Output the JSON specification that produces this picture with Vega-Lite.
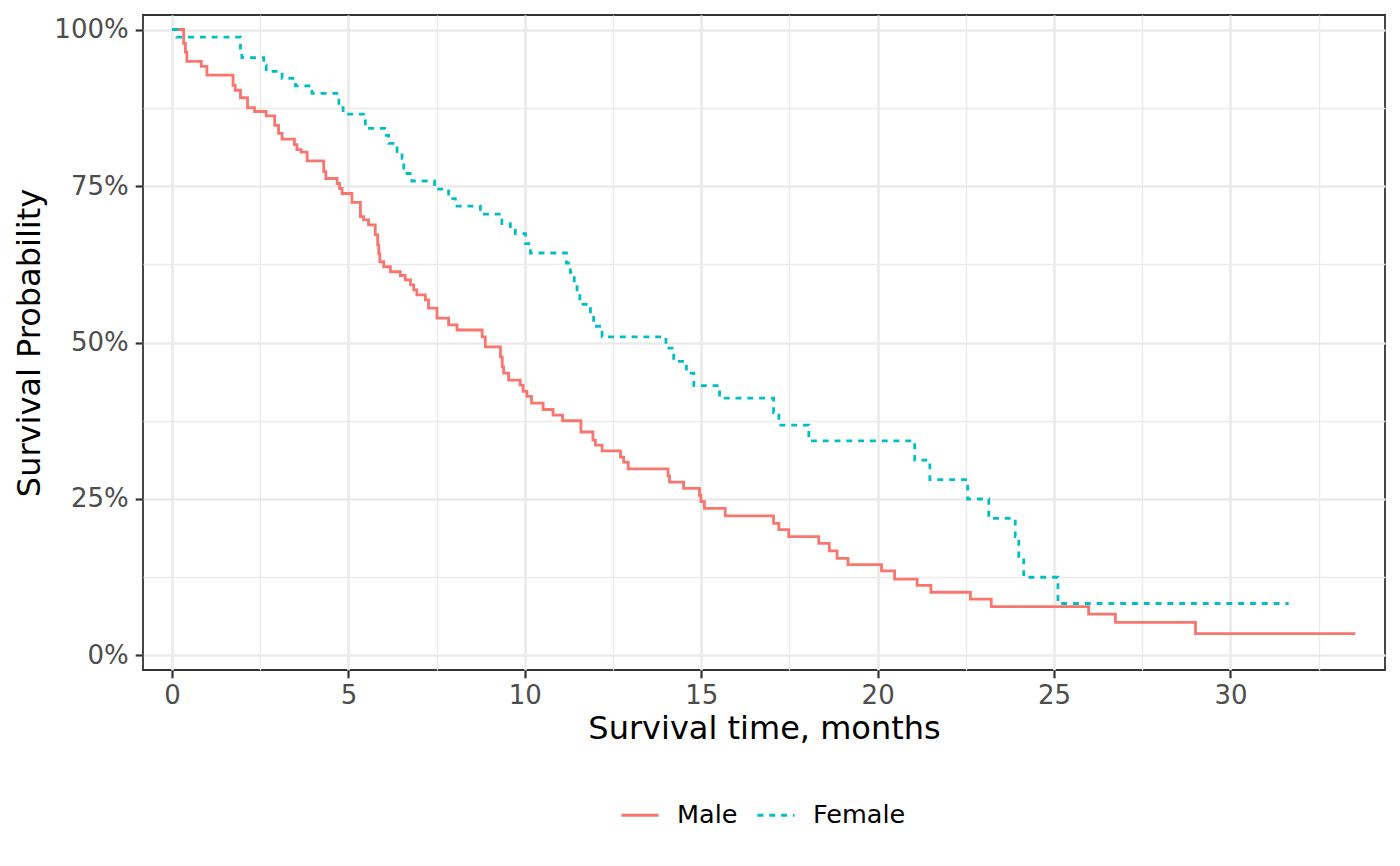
{
  "$schema": "https://vega.github.io/schema/vega-lite/v6.json",
  "width": 1242,
  "height": 655,
  "autosize": {"type": "none"},
  "padding": {"left": 143, "top": 15, "right": 15, "bottom": 196},
  "background": "white",
  "config": {
    "font": "DejaVu Sans",
    "view": {"stroke": "#333333", "strokeWidth": 1.8},
    "axis": {
      "domain": false,
      "grid": true,
      "gridColor": "#EBEBEB",
      "tickColor": "#333333",
      "tickWidth": 2.2,
      "tickSize": 7.8,
      "labelFont": "DejaVu Sans",
      "labelFontSize": 26,
      "labelColor": "#4D4D4D",
      "titleFont": "DejaVu Sans",
      "titleFontSize": 32,
      "titleFontWeight": "normal",
      "titleColor": "#000000"
    },
    "legend": {
      "orient": "none",
      "legendX": 477,
      "legendY": 780,
      "direction": "horizontal",
      "title": null,
      "symbolType": "stroke",
      "symbolSize": 1369,
      "symbolStrokeWidth": 2.8,
      "labelFont": "DejaVu Sans",
      "labelFontSize": 25.5,
      "labelColor": "#000000",
      "labelOffset": 17,
      "columnPadding": 13,
      "padding": 0
    }
  },
  "data": {
    "values": [
      {"sex": "Male", "time": 0, "surv": 1.0},
      {"sex": "Male", "time": 0.33, "surv": 0.978},
      {"sex": "Male", "time": 0.38, "surv": 0.964},
      {"sex": "Male", "time": 0.42, "surv": 0.949},
      {"sex": "Male", "time": 0.83, "surv": 0.941},
      {"sex": "Male", "time": 0.99, "surv": 0.927},
      {"sex": "Male", "time": 1.73, "surv": 0.911},
      {"sex": "Male", "time": 1.79, "surv": 0.903},
      {"sex": "Male", "time": 1.94, "surv": 0.891},
      {"sex": "Male", "time": 2.14, "surv": 0.875},
      {"sex": "Male", "time": 2.34, "surv": 0.869},
      {"sex": "Male", "time": 2.67, "surv": 0.862},
      {"sex": "Male", "time": 2.91, "surv": 0.847},
      {"sex": "Male", "time": 3.02, "surv": 0.834},
      {"sex": "Male", "time": 3.12, "surv": 0.825},
      {"sex": "Male", "time": 3.47, "surv": 0.816},
      {"sex": "Male", "time": 3.54, "surv": 0.808},
      {"sex": "Male", "time": 3.66, "surv": 0.804},
      {"sex": "Male", "time": 3.83, "surv": 0.790},
      {"sex": "Male", "time": 4.30, "surv": 0.773},
      {"sex": "Male", "time": 4.36, "surv": 0.762},
      {"sex": "Male", "time": 4.68, "surv": 0.754},
      {"sex": "Male", "time": 4.75, "surv": 0.746},
      {"sex": "Male", "time": 4.82, "surv": 0.738},
      {"sex": "Male", "time": 5.10, "surv": 0.724},
      {"sex": "Male", "time": 5.34, "surv": 0.701},
      {"sex": "Male", "time": 5.43, "surv": 0.696},
      {"sex": "Male", "time": 5.57, "surv": 0.688},
      {"sex": "Male", "time": 5.76, "surv": 0.672},
      {"sex": "Male", "time": 5.83, "surv": 0.656},
      {"sex": "Male", "time": 5.86, "surv": 0.642},
      {"sex": "Male", "time": 5.89, "surv": 0.629},
      {"sex": "Male", "time": 6.00, "surv": 0.621},
      {"sex": "Male", "time": 6.19, "surv": 0.613},
      {"sex": "Male", "time": 6.47, "surv": 0.607},
      {"sex": "Male", "time": 6.61, "surv": 0.600},
      {"sex": "Male", "time": 6.76, "surv": 0.592},
      {"sex": "Male", "time": 6.85, "surv": 0.584},
      {"sex": "Male", "time": 6.94, "surv": 0.576},
      {"sex": "Male", "time": 7.18, "surv": 0.568},
      {"sex": "Male", "time": 7.27, "surv": 0.555},
      {"sex": "Male", "time": 7.51, "surv": 0.539},
      {"sex": "Male", "time": 7.84, "surv": 0.528},
      {"sex": "Male", "time": 8.08, "surv": 0.520},
      {"sex": "Male", "time": 8.79, "surv": 0.509},
      {"sex": "Male", "time": 8.88, "surv": 0.493},
      {"sex": "Male", "time": 9.31, "surv": 0.477},
      {"sex": "Male", "time": 9.36, "surv": 0.461},
      {"sex": "Male", "time": 9.40, "surv": 0.451},
      {"sex": "Male", "time": 9.54, "surv": 0.440},
      {"sex": "Male", "time": 9.87, "surv": 0.432},
      {"sex": "Male", "time": 9.95, "surv": 0.422},
      {"sex": "Male", "time": 10.06, "surv": 0.414},
      {"sex": "Male", "time": 10.19, "surv": 0.403},
      {"sex": "Male", "time": 10.52, "surv": 0.393},
      {"sex": "Male", "time": 10.80, "surv": 0.384},
      {"sex": "Male", "time": 11.07, "surv": 0.375},
      {"sex": "Male", "time": 11.59, "surv": 0.357},
      {"sex": "Male", "time": 11.93, "surv": 0.344},
      {"sex": "Male", "time": 12.00, "surv": 0.336},
      {"sex": "Male", "time": 12.19, "surv": 0.327},
      {"sex": "Male", "time": 12.71, "surv": 0.317},
      {"sex": "Male", "time": 12.80, "surv": 0.309},
      {"sex": "Male", "time": 12.93, "surv": 0.298},
      {"sex": "Male", "time": 14.06, "surv": 0.287},
      {"sex": "Male", "time": 14.10, "surv": 0.277},
      {"sex": "Male", "time": 14.50, "surv": 0.267},
      {"sex": "Male", "time": 14.95, "surv": 0.256},
      {"sex": "Male", "time": 14.99, "surv": 0.246},
      {"sex": "Male", "time": 15.09, "surv": 0.235},
      {"sex": "Male", "time": 15.68, "surv": 0.223},
      {"sex": "Male", "time": 17.05, "surv": 0.211},
      {"sex": "Male", "time": 17.20, "surv": 0.201},
      {"sex": "Male", "time": 17.48, "surv": 0.190},
      {"sex": "Male", "time": 18.33, "surv": 0.179},
      {"sex": "Male", "time": 18.63, "surv": 0.167},
      {"sex": "Male", "time": 18.85, "surv": 0.155},
      {"sex": "Male", "time": 19.16, "surv": 0.145},
      {"sex": "Male", "time": 20.11, "surv": 0.135},
      {"sex": "Male", "time": 20.48, "surv": 0.122},
      {"sex": "Male", "time": 21.12, "surv": 0.112},
      {"sex": "Male", "time": 21.51, "surv": 0.101},
      {"sex": "Male", "time": 22.63, "surv": 0.090},
      {"sex": "Male", "time": 23.22, "surv": 0.078},
      {"sex": "Male", "time": 25.98, "surv": 0.066},
      {"sex": "Male", "time": 26.74, "surv": 0.053},
      {"sex": "Male", "time": 29.01, "surv": 0.035},
      {"sex": "Male", "time": 33.54, "surv": 0.035},
      {"sex": "Female", "time": 0, "surv": 1.0},
      {"sex": "Female", "time": 0.14, "surv": 0.988},
      {"sex": "Female", "time": 1.94, "surv": 0.967},
      {"sex": "Female", "time": 1.98, "surv": 0.955},
      {"sex": "Female", "time": 2.60, "surv": 0.943},
      {"sex": "Female", "time": 2.67, "surv": 0.933},
      {"sex": "Female", "time": 3.12, "surv": 0.922},
      {"sex": "Female", "time": 3.50, "surv": 0.910},
      {"sex": "Female", "time": 3.97, "surv": 0.898},
      {"sex": "Female", "time": 4.73, "surv": 0.882},
      {"sex": "Female", "time": 4.80, "surv": 0.875},
      {"sex": "Female", "time": 4.85, "surv": 0.865},
      {"sex": "Female", "time": 5.48, "surv": 0.842},
      {"sex": "Female", "time": 6.03, "surv": 0.831},
      {"sex": "Female", "time": 6.14, "surv": 0.818},
      {"sex": "Female", "time": 6.38, "surv": 0.805},
      {"sex": "Female", "time": 6.52, "surv": 0.794},
      {"sex": "Female", "time": 6.57, "surv": 0.770},
      {"sex": "Female", "time": 6.80, "surv": 0.758},
      {"sex": "Female", "time": 7.44, "surv": 0.745},
      {"sex": "Female", "time": 7.84, "surv": 0.730},
      {"sex": "Female", "time": 8.03, "surv": 0.718},
      {"sex": "Female", "time": 8.74, "surv": 0.705},
      {"sex": "Female", "time": 9.35, "surv": 0.690},
      {"sex": "Female", "time": 9.59, "surv": 0.682},
      {"sex": "Female", "time": 9.73, "surv": 0.674},
      {"sex": "Female", "time": 10.02, "surv": 0.658},
      {"sex": "Female", "time": 10.16, "surv": 0.643},
      {"sex": "Female", "time": 11.18, "surv": 0.627},
      {"sex": "Female", "time": 11.29, "surv": 0.612},
      {"sex": "Female", "time": 11.40, "surv": 0.596},
      {"sex": "Female", "time": 11.48, "surv": 0.579},
      {"sex": "Female", "time": 11.56, "surv": 0.561},
      {"sex": "Female", "time": 11.86, "surv": 0.544},
      {"sex": "Female", "time": 11.95, "surv": 0.526},
      {"sex": "Female", "time": 12.19, "surv": 0.509},
      {"sex": "Female", "time": 14.00, "surv": 0.491},
      {"sex": "Female", "time": 14.22, "surv": 0.470},
      {"sex": "Female", "time": 14.58, "surv": 0.451},
      {"sex": "Female", "time": 14.79, "surv": 0.431},
      {"sex": "Female", "time": 15.52, "surv": 0.411},
      {"sex": "Female", "time": 17.05, "surv": 0.388},
      {"sex": "Female", "time": 17.20, "surv": 0.368},
      {"sex": "Female", "time": 18.05, "surv": 0.343},
      {"sex": "Female", "time": 21.05, "surv": 0.312},
      {"sex": "Female", "time": 21.48, "surv": 0.281},
      {"sex": "Female", "time": 22.55, "surv": 0.250},
      {"sex": "Female", "time": 23.15, "surv": 0.219},
      {"sex": "Female", "time": 23.90, "surv": 0.190},
      {"sex": "Female", "time": 24.00, "surv": 0.158},
      {"sex": "Female", "time": 24.14, "surv": 0.125},
      {"sex": "Female", "time": 25.11, "surv": 0.083},
      {"sex": "Female", "time": 31.65, "surv": 0.083}
    ]
  },
  "mark": {"type": "line", "interpolate": "step-after", "strokeWidth": 2.8, "strokeCap": "butt"},
  "encoding": {
    "x": {
      "field": "time",
      "type": "quantitative",
      "scale": {"domain": [-0.822, 34.38], "nice": false, "zero": false},
      "axis": {
        "title": "Survival time, months",
        "values": [0, 2.5, 5, 7.5, 10, 12.5, 15, 17.5, 20, 22.5, 25, 27.5, 30, 32.5],
        "labelExpr": "datum.value % 5 === 0 ? datum.label : ''",
        "gridWidth": {"condition": {"test": "datum.value % 5 === 0", "value": 2.7}, "value": 1.3},
        "tickOpacity": {"condition": {"test": "datum.value % 5 === 0", "value": 1}, "value": 0},
        "labelPadding": 5,
        "titleBaseline": "alphabetic",
        "titleY": 68.5
      }
    },
    "y": {
      "field": "surv",
      "type": "quantitative",
      "scale": {"domain": [-0.0232, 1.0232], "nice": false, "zero": false},
      "axis": {
        "title": "Survival Probability",
        "values": [0, 0.125, 0.25, 0.375, 0.5, 0.625, 0.75, 0.875, 1],
        "format": ".0%",
        "labelExpr": "round(datum.value * 8) % 2 === 0 ? datum.label : ''",
        "gridWidth": {"condition": {"test": "round(datum.value * 8) % 2 === 0", "value": 2.7}, "value": 1.3},
        "tickOpacity": {"condition": {"test": "round(datum.value * 8) % 2 === 0", "value": 1}, "value": 0},
        "labelPadding": 7,
        "titleBaseline": "alphabetic",
        "titleX": -104
      }
    },
    "color": {
      "field": "sex",
      "type": "nominal",
      "scale": {"domain": ["Male", "Female"], "range": ["#F8766D", "#00BFC4"]},
      "legend": {"title": null}
    },
    "strokeDash": {
      "field": "sex",
      "type": "nominal",
      "scale": {"domain": ["Male", "Female"], "range": [[1, 0], [5.9, 5.9]]},
      "legend": {"title": null}
    }
  }
}
